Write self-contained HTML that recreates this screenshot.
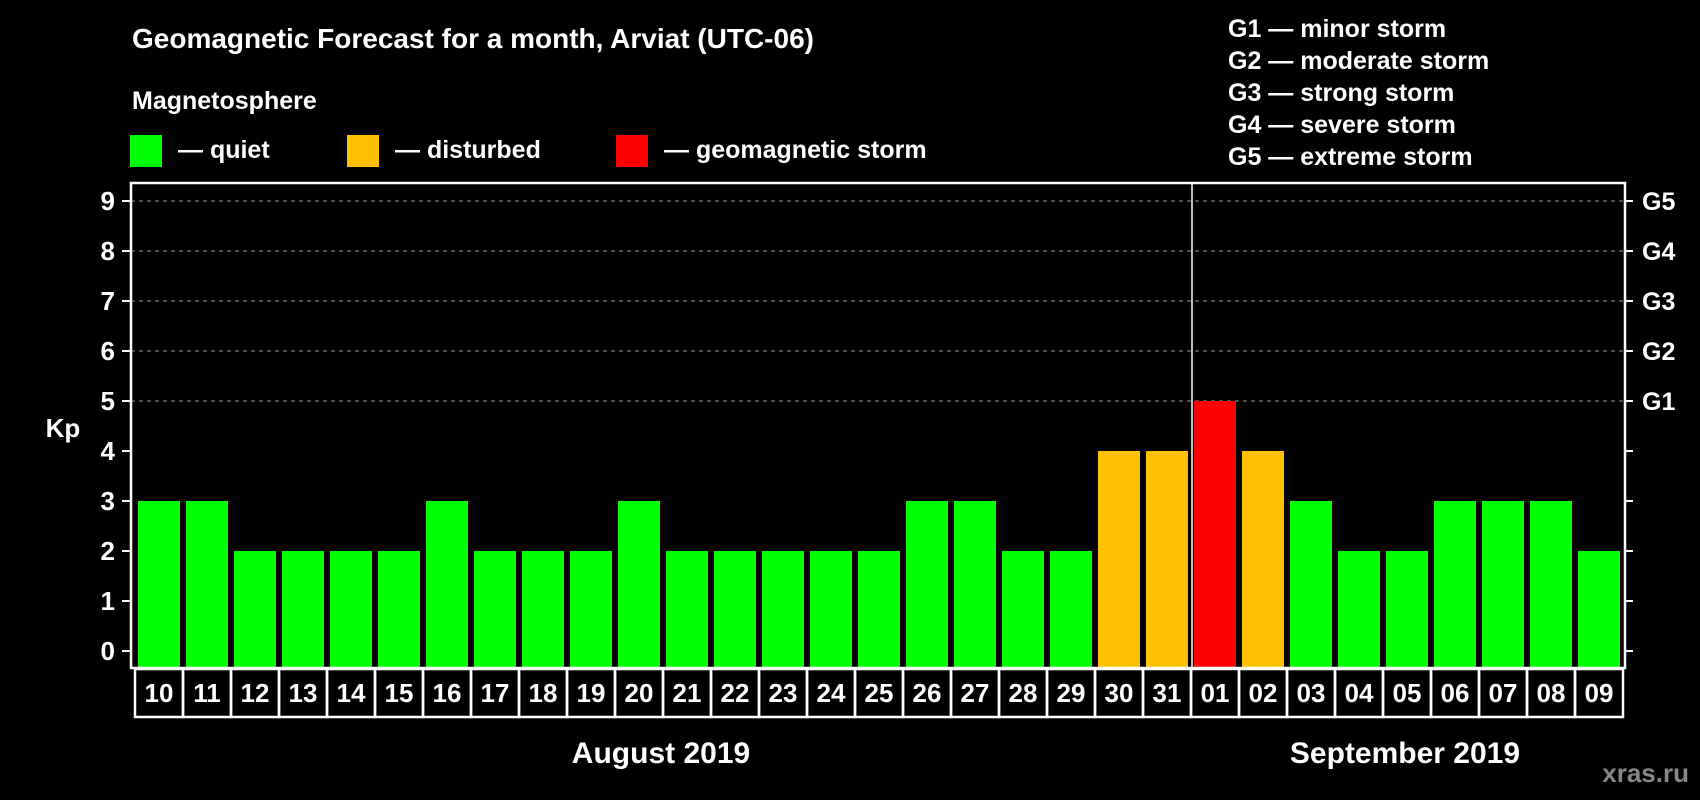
<!DOCTYPE html>
<html><head><meta charset="utf-8"><style>
html,body{margin:0;padding:0;background:#000;}
svg{display:block;font-family:"Liberation Sans",Arial,sans-serif;font-weight:bold;}
</style></head><body>
<svg id="chart" width="1700" height="800" viewBox="0 0 1700 800">
<rect x="0" y="0" width="1700" height="800" fill="#000"/>
<text x="132" y="48" font-size="28" fill="#fff">Geomagnetic Forecast for a month, Arviat (UTC-06)</text>
<text x="132" y="109" font-size="25" fill="#fff">Magnetosphere</text>
<g><rect x="130" y="135" width="32" height="32" fill="#00ff00"/><text x="178" y="158" font-size="25" fill="#fff">— quiet</text></g>
<g><rect x="347" y="135" width="32" height="32" fill="#ffc000"/><text x="395" y="158" font-size="25" fill="#fff">— disturbed</text></g>
<g><rect x="616" y="135" width="32" height="32" fill="#ff0000"/><text x="664" y="158" font-size="25" fill="#fff">— geomagnetic storm</text></g>
<g font-size="25" fill="#fff">
<text x="1228" y="37">G1 — minor storm</text>
<text x="1228" y="69">G2 — moderate storm</text>
<text x="1228" y="101">G3 — strong storm</text>
<text x="1228" y="133">G4 — severe storm</text>
<text x="1228" y="165">G5 — extreme storm</text>
</g>
<text x="63" y="437" font-size="26" fill="#fff" text-anchor="middle">Kp</text>
<g id="grid"></g>
<g id="bars"></g>
<g id="axes"></g>
<rect x="131" y="183" width="1494" height="485" fill="none" stroke="#fff" stroke-width="2.5"/>
<line x1="1192" y1="183" x2="1192" y2="668" stroke="#fff" stroke-width="1.5"/>
<g id="xlabels"></g>
<text x="661" y="763" font-size="30" fill="#fff" text-anchor="middle">August 2019</text>
<text x="1405" y="763" font-size="30" fill="#fff" text-anchor="middle">September 2019</text>
<text x="1689" y="782" font-size="26" fill="#888" text-anchor="end">xras.ru</text>
</svg>
<script>
const days = ["10","11","12","13","14","15","16","17","18","19","20","21","22","23","24","25","26","27","28","29","30","31","01","02","03","04","05","06","07","08","09"];
const kpValues = [3,3,2,2,2,2,3,2,2,2,3,2,2,2,2,2,3,3,2,2,4,4,5,4,3,2,2,3,3,3,2];
const yTicks = [0,1,2,3,4,5,6,7,8,9];
const gLabels = ["G1","G2","G3","G4","G5"];
const gLevels = [5,6,7,8,9];

const NS = "http://www.w3.org/2000/svg";
const plotL = 131, plotR = 1625, plotB = 668;
const y = v => 651 - v * 50;
const step = 48;
const xLeft = i => 138 + i * step;
const barW = 42;
const color = v => v >= 5 ? "#ff0000" : (v >= 4 ? "#ffc000" : "#00ff00");
function mk(tag, attrs, parent){const e=document.createElementNS(NS,tag);for(const k in attrs)e.setAttribute(k,attrs[k]);parent.appendChild(e);return e;}

const grid = document.getElementById("grid");
gLevels.forEach(v => {
  const l = mk("line",{x1:plotL,x2:plotR,y1:y(v),y2:y(v),stroke:"#999","stroke-width":1,"stroke-dasharray":"4,4"},grid);
  
  
});

const bars = document.getElementById("bars");
kpValues.forEach((v,i) => {
  const r = mk("rect",{x:xLeft(i),y:y(v),width:barW,height:plotB - y(v),fill:color(v)},bars);
  
  
});

const axes = document.getElementById("axes");
yTicks.forEach(v => {
  const t = mk("line",{x1:122,x2:plotL,y1:y(v),y2:y(v),stroke:"#fff","stroke-width":2},axes);
  
  
  const t2 = mk("line",{x1:plotR,x2:1633,y1:y(v),y2:y(v),stroke:"#fff","stroke-width":2},axes);
  
  
  const lb = mk("text",{x:115,y:y(v)+9,"font-size":26,fill:"#fff","text-anchor":"end"},axes);
  lb.textContent = v;
  
  
});
gLabels.forEach((g,i) => {
  const lb = mk("text",{x:1642,y:y(gLevels[i])+9,"font-size":25,fill:"#fff"},axes);
  lb.textContent = g;
  
  
});

const xl = document.getElementById("xlabels");
days.forEach((d,i) => {
  const c = mk("rect",{x:135 + i*step,y:669,width:step,height:48,fill:"none",stroke:"#fff","stroke-width":2.5},xl);
  
  
  const t = mk("text",{x:135 + i*step + step/2,y:702,"font-size":26,fill:"#fff","text-anchor":"middle"},xl);
  t.textContent = d;
  
  
});
</script>
</body></html>
